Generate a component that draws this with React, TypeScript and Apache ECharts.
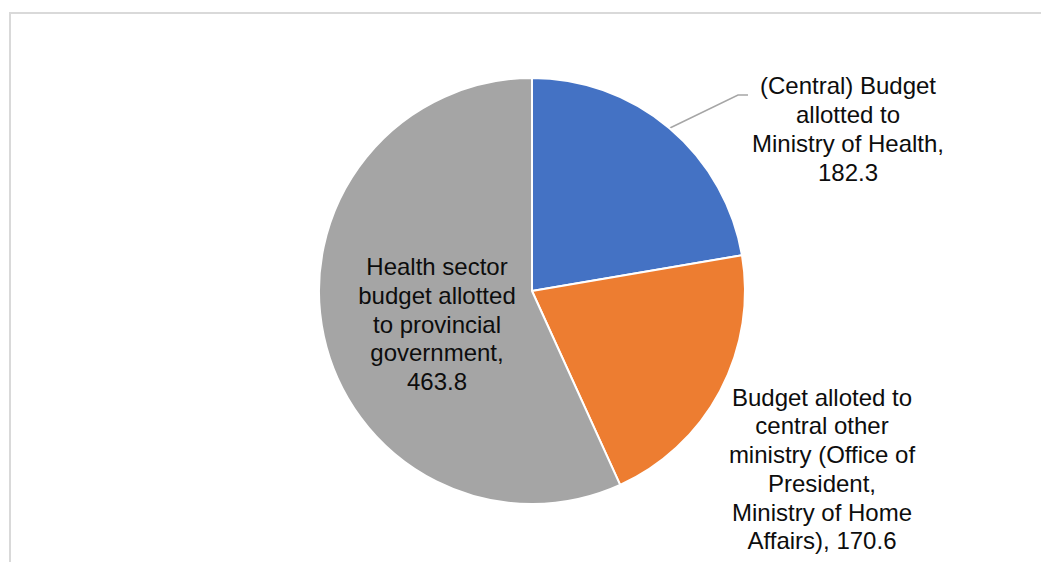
import React, { useEffect, useRef } from "react";
import * as echarts from "echarts";

const categories = [
  "(Central) Budget allotted to Ministry of Health",
  "Budget alloted to central other ministry (Office of President, Ministry of Home Affairs)",
  "Health sector budget allotted to provincial government",
];
const values = [182.3, 170.6, 463.8];
const labelTexts = [
  "(Central) Budget\nallotted to\nMinistry of Health,\n182.3",
  "Budget alloted to\ncentral other\nministry (Office of\nPresident,\nMinistry of Home\nAffairs), 170.6",
  "Health sector\nbudget allotted\nto provincial\ngovernment,\n463.8",
];
const colors = ["#4472C4", "#ED7D31", "#A5A5A5"];

export default function App() {
  const ref = useRef<HTMLDivElement>(null);
  useEffect(() => {
    if (!ref.current) return;
    const chart = echarts.init(ref.current, null, { renderer: "svg" });
    const labelPos = [
      { x: 848, y: 129 },
      { x: 822, y: 469 },
      { x: 437, y: 324 },
    ];
    chart.setOption({
      animation: false,
      backgroundColor: "#ffffff",
      graphic: [
        {
          type: "rect",
          shape: { x: 10, y: 13, width: 1034, height: 600 },
          style: { fill: "none", stroke: "#d9d9d9", lineWidth: 2 },
          silent: true,
        },
      ],
      series: [
        {
          type: "pie",
          center: [532, 291],
          radius: 213,
          startAngle: 90,
          clockwise: true,
          itemStyle: { borderColor: "#ffffff", borderWidth: 2 },
          label: {
            show: true,
            position: "outside",
            color: "#0d0d0d",
            fontSize: 24,
            lineHeight: 28.7,
            fontFamily: "'Liberation Sans', Arial, sans-serif",
            align: "center",
            formatter: (p: any) => labelTexts[p.dataIndex],
          },
          labelLine: {
            show: true,
            lineStyle: { color: "#a6a6a6", width: 1.5 },
          },
          labelLayout: (params: any) => {
            const i = params.dataIndex;
            const res: any = {
              x: labelPos[i].x,
              y: labelPos[i].y,
              align: "center",
              verticalAlign: "middle",
            };
            if (i === 0 && params.labelLinePoints) {
              const p0 = params.labelLinePoints[0];
              res.labelLinePoints = [p0, [738, 95], [748, 95]];
            }
            return res;
          },
          data: categories.map((name, i) => ({
            name,
            value: values[i],
            itemStyle: { color: colors[i] },
            label: i === 2 ? { position: "inside" } : undefined,
            labelLine: i === 0 ? { show: true } : { show: false },
          })),
        },
      ],
    });
    return () => chart.dispose();
  }, []);
  return (
    <div
      ref={ref}
      style={{ position: "fixed", left: 0, top: 0, width: 1041, height: 562 }}
    />
  );
}
